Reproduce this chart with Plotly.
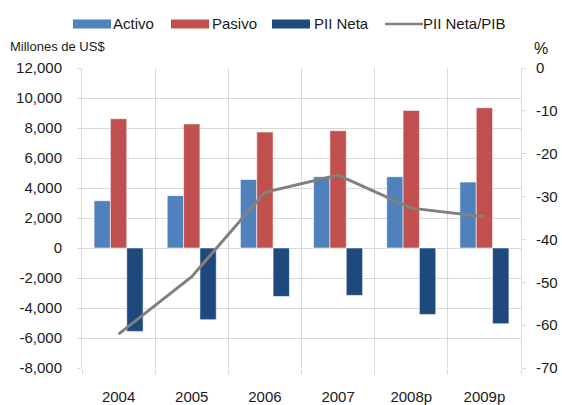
import plotly.graph_objects as go

years = ["2004", "2005", "2006", "2007", "2008p", "2009p"]
activo = [3150, 3490, 4570, 4750, 4750, 4400]
pasivo = [8620, 8270, 7730, 7820, 9170, 9350]
pii_neta = [-5560, -4780, -3230, -3160, -4430, -5050]
pii_pib = [-62.1, -48.7, -29.0, -25.0, -32.7, -34.7]

left_ticks = [-8000, -6000, -4000, -2000, 0, 2000, 4000, 6000, 8000, 10000, 12000]
left_text = [f"{v:,}" for v in left_ticks]
right_ticks = [-70, -60, -50, -40, -30, -20, -10, 0]
right_text = [str(v) for v in right_ticks]

c_act = "#4F81BD"
c_pas = "#C0504D"
c_pii = "#1F497D"
c_line = "#808080"
grid = "#D9D9D9"
txt = "#1a1a1a"
font_fam = "Liberation Sans, Arial, sans-serif"

W, H = 562, 405
L, R, T, B = 82, 41, 68, 37
PW, PH = W - L - R, H - T - B


def px(x):
    return (x - L) / PW


def py(y):
    return (H - B - y) / PH


fig = go.Figure()
for name, vals, col in [("Activo", activo, c_act), ("Pasivo", pasivo, c_pas), ("PII Neta", pii_neta, c_pii)]:
    fig.add_trace(go.Bar(x=years, y=vals, name=name, marker_color=col,
                         marker_line=dict(color="rgba(255,255,255,0.7)", width=0.8),
                         showlegend=False))
fig.add_trace(go.Scatter(x=years, y=pii_pib, name="PII Neta/PIB", yaxis="y2",
                         mode="lines", line=dict(color=c_line, width=3), showlegend=False))

# manual legend (wide swatches like the original)
shapes = []
annotations = []
legend_items = [("Activo", c_act, "box", 73, 113), ("Pasivo", c_pas, "box", 171, 212),
                ("PII Neta", c_pii, "box", 272, 314), ("PII Neta/PIB", c_line, "line", 385, 423)]
for name, col, kind, sx, tx in legend_items:
    if kind == "box":
        shapes.append(dict(type="rect", xref="paper", yref="paper",
                           x0=px(sx), x1=px(sx + 38), y0=py(28.5), y1=py(19.5),
                           fillcolor=col, line=dict(width=0)))
    else:
        shapes.append(dict(type="line", xref="paper", yref="paper",
                           x0=px(sx), x1=px(sx + 38), y0=py(24), y1=py(24),
                           line=dict(color=col, width=2.5)))
    annotations.append(dict(text=name, xref="paper", yref="paper", x=px(tx - 2), y=py(24),
                            xanchor="left", yanchor="middle", showarrow=False,
                            font=dict(size=15, family=font_fam, color=txt)))

annotations += [
    dict(text="Millones de US$", xref="paper", yref="paper", x=px(8), y=py(47),
         xanchor="left", yanchor="middle", showarrow=False,
         font=dict(size=13, family=font_fam, color=txt)),
    dict(text="%", xref="paper", yref="paper", x=px(541), y=py(48),
         xanchor="center", yanchor="middle", showarrow=False,
         font=dict(size=16, family=font_fam, color=txt)),
]

fig.update_layout(
    width=W, height=H,
    margin=dict(l=L, r=R, t=T, b=B, autoexpand=False),
    paper_bgcolor="white", plot_bgcolor="white",
    font=dict(family=font_fam, size=15, color=txt),
    barmode="group", bargap=0.33, bargroupgap=0,
    showlegend=False,
    xaxis=dict(type="category", showgrid=True, gridcolor=grid, gridwidth=1,
               tickson="boundaries", ticks="outside", ticklen=5, tickcolor=grid,
               showline=False, tickfont=dict(size=15), range=[-0.5, 5.5],
               ticklabelstandoff=18),
    yaxis=dict(range=[-8000, 12000], tickvals=left_ticks, ticktext=left_text, showgrid=True,
               gridcolor=grid, gridwidth=1, zeroline=False, showline=True,
               linecolor=grid, ticks="outside", ticklen=4, tickcolor=grid,
               tickfont=dict(size=15), ticklabelstandoff=12),
    yaxis2=dict(range=[-70, 0], tickvals=right_ticks, ticktext=right_text, overlaying="y",
                side="right", showgrid=False,
                zeroline=False, showline=True, linecolor=grid, ticks="outside",
                ticklen=4, tickcolor=grid, tickfont=dict(size=15), ticklabelstandoff=7),
    shapes=shapes,
    annotations=annotations,
)

fig.write_html("out.html", config={"displayModeBar": False},
               post_script="document.body.style.margin='0';")
